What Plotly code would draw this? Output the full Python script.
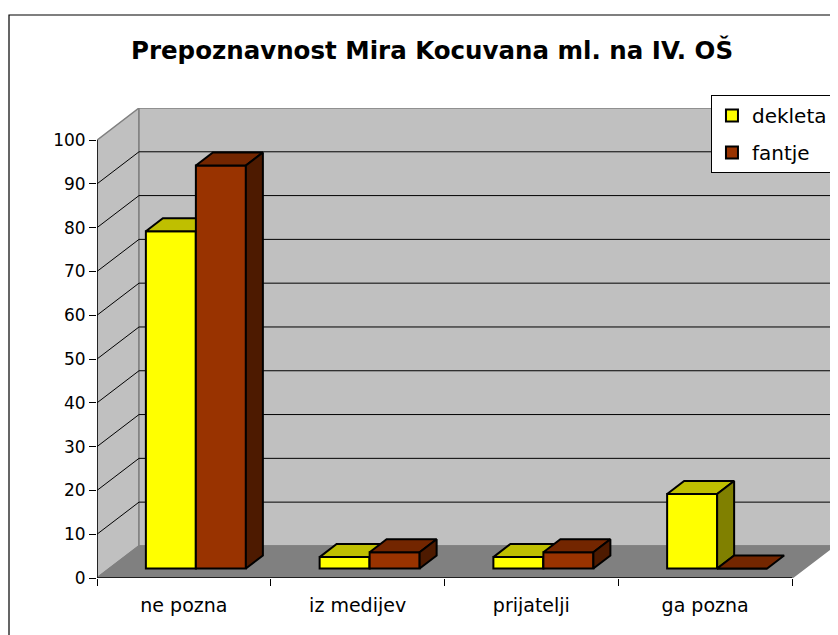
import plotly.graph_objects as go

# ---------------- data ----------------
title_text = "Prepoznavnost Mira Kocuvana ml. na IV. OŠ"
categories = ["ne pozna", "iz medijev", "prijatelji", "ga pozna"]
series_names = ["dekleta", "fantje"]
dekleta = [77, 2.6, 2.6, 17]
fantje = [92, 3.7, 3.7, 0]
y_tick_values = [0, 10, 20, 30, 40, 50, 60, 70, 80, 90, 100]

# ---------------- style / pseudo-3D geometry ----------------
FONT = "DejaVu Sans"
PX_X = 173.75          # pixels per category unit
PX_Y = 4.37            # pixels per value unit
BACK_DX, BACK_DY = 42 / PX_X, 32 / PX_Y      # depth of the chart box
OFF_DX, OFF_DY = 12 / PX_X, 9.5 / PX_Y       # bars' front plane offset
DEP_DX, DEP_DY = 17 / PX_X, 13 / PX_Y        # bar depth
BAR_W = 50 / PX_X

colors = {
    "dekleta": {"front": "#FFFF00", "top": "#BFBF00", "side": "#808000"},
    "fantje": {"front": "#993300", "top": "#732600", "side": "#4D1A00"},
}
WALL = "#C0C0C0"
FLOOR = "#808080"
EDGE = "#808080"

n = len(categories)
vmax = y_tick_values[-1]
x_lo = -0.5
x_front_hi = n - 0.5
x_hi = x_front_hi + BACK_DX
y_hi = vmax + BACK_DY

fig = go.Figure()

# ---------------- walls & floor (main subplot) ----------------
fig.add_trace(go.Scatter(
    x=[x_lo, x_lo, x_lo + BACK_DX, x_lo + BACK_DX, x_lo],
    y=[0, vmax, vmax + BACK_DY, BACK_DY, 0],
    fill="toself", fillcolor=WALL, mode="lines",
    line=dict(color=EDGE, width=1.5), showlegend=False, hoverinfo="skip"))
fig.add_trace(go.Scatter(
    x=[x_lo + BACK_DX, x_lo + BACK_DX, x_hi, x_hi, x_lo + BACK_DX],
    y=[BACK_DY, y_hi, y_hi, BACK_DY, BACK_DY],
    fill="toself", fillcolor=WALL, mode="lines",
    line=dict(color=EDGE, width=1.5), showlegend=False, hoverinfo="skip"))
fig.add_trace(go.Scatter(
    x=[x_lo, x_front_hi, x_hi, x_lo + BACK_DX, x_lo],
    y=[0, 0, BACK_DY, BACK_DY, 0],
    fill="toself", fillcolor=FLOOR, mode="lines",
    line=dict(color=EDGE, width=1.5), showlegend=False, hoverinfo="skip"))

gx, gy = [], []
for v in y_tick_values[1:-1]:
    gx += [x_lo, x_lo + BACK_DX, x_hi, None]
    gy += [v, v + BACK_DY, v + BACK_DY, None]
fig.add_trace(go.Scatter(x=gx, y=gy, mode="lines",
                         line=dict(color="black", width=1),
                         showlegend=False, hoverinfo="skip"))

# ---------------- bars (one overlaid subplot per series) ----------------
for k, (name, vals) in enumerate(zip(series_names, [dekleta, fantje])):
    xa, ya = f"x{k + 2}", f"y{k + 2}"
    centers = [i + OFF_DX + (k - 0.5) * BAR_W for i in range(n)]
    c = colors[name]
    fig.add_trace(go.Bar(
        x=centers, y=vals, base=[OFF_DY] * n, width=BAR_W, name=name,
        marker=dict(color=c["front"], line=dict(color="black", width=2)),
        xaxis=xa, yaxis=ya, legendgroup=name,
        customdata=categories,
        hovertemplate="%{customdata}: %{y}<extra>" + name + "</extra>"))
    tx, ty, sx, sy = [], [], [], []
    for xc, v in zip(centers, vals):
        x0, x1 = xc - BAR_W / 2, xc + BAR_W / 2
        t = OFF_DY + v
        tx += [x0, x1, x1 + DEP_DX, x0 + DEP_DX, x0, None]
        ty += [t, t, t + DEP_DY, t + DEP_DY, t, None]
        if v > 0:
            sx += [x1, x1, x1 + DEP_DX, x1 + DEP_DX, x1, None]
            sy += [OFF_DY, t, t + DEP_DY, OFF_DY + DEP_DY, OFF_DY, None]
    fig.add_trace(go.Scatter(x=tx, y=ty, fill="toself", fillcolor=c["top"],
                             mode="lines", line=dict(color="black", width=2),
                             xaxis=xa, yaxis=ya, showlegend=False, hoverinfo="skip"))
    fig.add_trace(go.Scatter(x=sx, y=sy, fill="toself", fillcolor=c["side"],
                             mode="lines", line=dict(color="black", width=2),
                             xaxis=xa, yaxis=ya, showlegend=False, hoverinfo="skip"))

# ---------------- axes ----------------
xr = [x_lo, x_hi]
yr = [0, y_hi]
boundaries = [i - 0.5 for i in range(n + 1)]
fig.update_layout(
    xaxis=dict(range=xr, tickmode="array", tickvals=boundaries,
               showticklabels=False, ticks="outside", ticklen=7,
               tickcolor="black", showgrid=False, zeroline=False,
               showline=False, fixedrange=True),
    xaxis2=dict(range=xr, overlaying="x", anchor="y", side="bottom",
                tickmode="array", tickvals=list(range(n)), ticktext=categories,
                ticks="", showgrid=False, zeroline=False, showline=False,
                ticklabelstandoff=14,
                tickfont=dict(family=FONT, size=19, color="black")),
    xaxis3=dict(range=xr, overlaying="x", visible=False),
    yaxis=dict(range=yr, tickmode="array", tickvals=y_tick_values,
               ticks="outside", ticklen=7, tickcolor="black",
               showgrid=False, zeroline=False, showline=False,
               tickfont=dict(family=FONT, size=17, color="black")),
    yaxis2=dict(range=yr, overlaying="y", visible=False),
    yaxis3=dict(range=yr, overlaying="y", visible=False),
)

# axis lines on the front plane
fig.add_shape(type="line", xref="x", yref="y", x0=x_lo, x1=x_lo, y0=0, y1=vmax,
              line=dict(color="black", width=1.5))
fig.add_shape(type="line", xref="x", yref="y", x0=x_lo, x1=x_front_hi, y0=0, y1=0,
              line=dict(color="black", width=1.5))
# chart frame
fig.add_shape(type="rect", xref="paper", yref="paper",
              x0=-0.1194, x1=1.03, y0=-0.2, y1=1.1979,
              line=dict(color="black", width=1.2), layer="above")

# the page adds an 8 px body margin, so the figure is 8 px smaller on each side
fig.update_layout(
    width=830, height=627, autosize=False,
    margin=dict(l=89, r=4, t=100, b=57),
    paper_bgcolor="white", plot_bgcolor="white",
    title=dict(text=title_text, x=424 / 830, xanchor="center",
               y=1 - 42.5 / 627, yanchor="middle",
               font=dict(family=FONT, size=24.5, color="black", weight="bold")),
    font=dict(family=FONT, color="black"),
    barmode="overlay",
    legend=dict(x=0.9986, xanchor="right", y=1.0277, yanchor="top",
                bgcolor="white", bordercolor="black", borderwidth=1,
                font=dict(family=FONT, size=20, color="black"),
                traceorder="grouped", tracegroupgap=8),
    showlegend=True,
)

fig.write_html("out.html")
